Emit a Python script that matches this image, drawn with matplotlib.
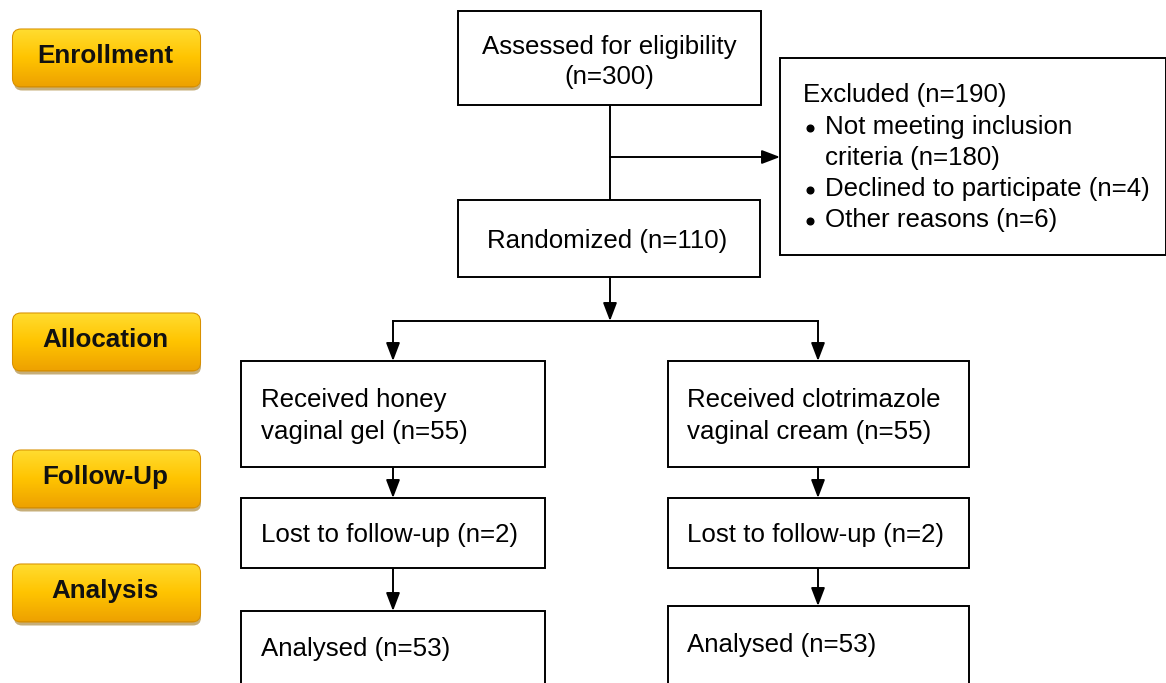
import numpy as np
import matplotlib
matplotlib.use("Agg")
import matplotlib.pyplot as plt
from matplotlib.patches import Rectangle, FancyBboxPatch

plt.rcParams['font.family'] = ['Liberation Sans', 'DejaVu Sans']

# stage labels on the left (gold buttons)
stages = ["Enrollment", "Allocation", "Follow-Up", "Analysis"]
stage_y = [60, 344, 481, 595]

# flow boxes: (left, top, right, bottom) in pixel coords
box_edges = [
    (458, 11, 761, 105),
    (780, 58, 1166, 255),
    (458, 200, 760, 277),
    (241, 361, 545, 467),
    (668, 361, 969, 467),
    (241, 498, 545, 568),
    (668, 498, 969, 568),
    (241, 611, 545, 700),
    (668, 606, 969, 700),
]

# box text lines: (x, y, text, ha)
box_lines = [
    (609, 45, "Assessed for eligibility", "center"),
    (609, 75, "(n=300)", "center"),
    (803, 93, "Excluded (n=190)", "left"),
    (825, 125, "Not meeting inclusion", "left"),
    (825, 156, "criteria (n=180)", "left"),
    (825, 187, "Declined to participate (n=4)", "left"),
    (825, 218, "Other reasons (n=6)", "left"),
    (487, 239, "Randomized (n=110)", "left"),
    (261, 398, "Received honey", "left"),
    (261, 430, "vaginal gel (n=55)", "left"),
    (687, 398, "Received clotrimazole", "left"),
    (687, 430, "vaginal cream (n=55)", "left"),
    (261, 533, "Lost to follow-up (n=2)", "left"),
    (687, 533, "Lost to follow-up (n=2)", "left"),
    (261, 647, "Analysed (n=53)", "left"),
    (687, 643, "Analysed (n=53)", "left"),
]
bullet_y = [125, 187, 218]

fig = plt.figure(figsize=(11.66, 6.83), dpi=100)
ax = fig.add_axes([0, 0, 1, 1])
ax.set_xlim(0, 1166)
ax.set_ylim(683, 0)
ax.axis("off")

# gold buttons
grad = np.linspace(0, 1, 100).reshape(-1, 1)
cmap = matplotlib.colors.LinearSegmentedColormap.from_list("gold", ["#FFDC30", "#FFC400", "#EEA200"])
for name, yc in zip(stages, stage_y):
    x0, w, h = 13, 187, 57
    y0 = yc - h / 2 - 2
    shadow = FancyBboxPatch((x0 + 1, y0 + 4), w, h, boxstyle="round,pad=0,rounding_size=8",
                            fc="#A07820", ec="none", alpha=0.6, zorder=1)
    ax.add_patch(shadow)
    btn = FancyBboxPatch((x0, y0), w, h, boxstyle="round,pad=0,rounding_size=8",
                         fc="#FFC400", ec="#D89000", lw=1.5, zorder=2)
    ax.add_patch(btn)
    im = ax.imshow(grad, extent=(x0, x0 + w, y0 + h, y0), cmap=cmap, aspect="auto", zorder=2.5)
    im.set_clip_path(btn)
    ax.text(x0 + w / 2 - 1, yc - 4, name, ha="center", va="center", fontsize=18.7,
            fontweight="bold", color="#111111", zorder=3)

# flow boxes
for l, t, r, b in box_edges:
    ax.add_patch(Rectangle((l, t), r - l, b - t, fc="white", ec="black", lw=1.4, zorder=2))
for x, y, txt, ha in box_lines:
    ax.text(x, y + 2, txt, ha=ha, va="center", fontsize=18.6, zorder=3)
for y in bullet_y:
    ax.plot(810, y + 3, "o", color="black", ms=4.8, zorder=3)

arrow = dict(arrowstyle="-|>,head_length=1.1,head_width=0.42", color="black", lw=1.4,
             shrinkA=0, shrinkB=0, mutation_scale=10)

def line(x1, y1, x2, y2):
    ax.plot([x1, x2], [y1, y2], color="black", lw=1.4, zorder=1.5)

def arr(x1, y1, x2, y2):
    ax.annotate("", xy=(x2, y2), xytext=(x1, y1), arrowprops=arrow, zorder=1.5)

line(610, 105, 610, 200)
arr(610, 157, 780, 157)
arr(610, 277, 610, 321)
line(393, 321, 818, 321)
arr(393, 321, 393, 361)
arr(818, 321, 818, 361)
arr(393, 467, 393, 498)
arr(818, 467, 818, 498)
arr(393, 568, 393, 611)
arr(818, 568, 818, 606)

fig.savefig("out.png", dpi=100)
